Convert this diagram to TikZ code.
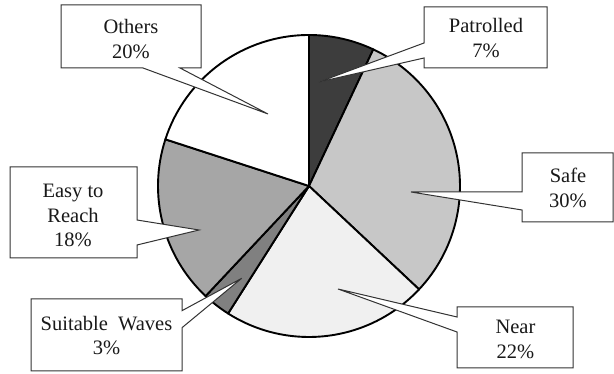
\documentclass[tikz,border=0pt]{standalone}
\usepackage{fontspec}
\setmainfont{Liberation Serif}
\begin{document}
\begin{tikzpicture}[x=1pt,y=1pt,
  slice/.style={draw=black,line width=1.9pt,line join=round},
  callout/.style={draw=black!80,line width=1pt,fill=white,line join=miter},
  lbl/.style={align=center,font=\fontsize{20.5}{24.5}\selectfont,text=black!90,inner sep=0pt,anchor=base}]
\useasboundingbox (0,0) rectangle (614,374);
\fill[white] (0,0) rectangle (614,374);
\coordinate (C) at (309,188);
\def\R{151}
% pie slices
\filldraw[slice,fill=black!76] (C) -- ++(90:\R) arc[start angle=90,end angle=64.8,radius=\R] -- cycle;
\filldraw[slice,fill=black!22] (C) -- ++(64.8:\R) arc[start angle=64.8,end angle=-43.2,radius=\R] -- cycle;
\filldraw[slice,fill=black!6] (C) -- ++(-43.2:\R) arc[start angle=-43.2,end angle=-122.4,radius=\R] -- cycle;
\filldraw[slice,fill=black!50] (C) -- ++(-122.4:\R) arc[start angle=-122.4,end angle=-133.2,radius=\R] -- cycle;
\filldraw[slice,fill=black!35] (C) -- ++(-133.2:\R) arc[start angle=-133.2,end angle=-198,radius=\R] -- cycle;
\filldraw[slice,fill=white] (C) -- ++(-198:\R) arc[start angle=-198,end angle=-270,radius=\R] -- cycle;
% callout tips
\coordinate (tOthers) at (268,260);
\coordinate (tPatrolled) at (319,292);
\coordinate (tSafe) at (411,182);
\coordinate (tNear) at (338,85);
\coordinate (tWaves) at (241.7,95.7);
\coordinate (tEasy) at (199,144);
% callouts
\draw[callout] (61,369) -- (201,369) -- (201,306) -- (180,306) -- (tOthers) -- (143,306) -- (61,306) -- cycle;
\draw[callout] (424,367) -- (547,367) -- (547,306) -- (424,306) -- (424,316) -- (tPatrolled) -- (424,331) -- cycle;
\draw[callout] (522,221) -- (613,221) -- (613,152) -- (522,152) -- (522,164) -- (tSafe) -- (522,182) -- cycle;
\draw[callout] (457,67) -- (573,67) -- (573,6) -- (457,6) -- (457,42) -- (tNear) -- (457,57) -- cycle;
\draw[callout] (31,75) -- (182,75) -- (182,63.3) -- (tWaves) -- (182,46.3) -- (182,3) -- (31,3) -- cycle;
\draw[callout] (10,207) -- (137,207) -- (137,154) -- (tEasy) -- (137,129) -- (137,116) -- (10,116) -- cycle;
% labels (anchor = baseline of the last line)
\node[lbl] (others) at (131,315.7) {Others\\20\%};
\node[lbl] (patrolled) at (486,316.7) {Patrolled\\7\%};
\node[lbl] (safe) at (568,166.7) {Safe\\30\%};
\node[lbl] (near) at (515.5,15.7) {Near\\22\%};
\node[lbl] (easy) at (73,127.3) {Easy to\\Reach\\18\%};
\node[lbl] (waves) at (106.5,19) {Suitable\hspace{0.5em}Waves\\3\%};
\end{tikzpicture}
\end{document}
